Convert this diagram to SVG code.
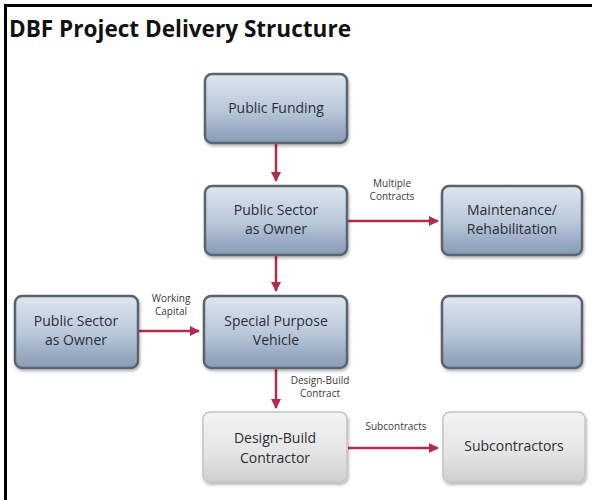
<svg xmlns="http://www.w3.org/2000/svg" width="592" height="500" viewBox="0 0 592 500">
<defs>
<linearGradient id="gb" x1="0" y1="0" x2="0" y2="1">
<stop offset="0" stop-color="#dfe6ef"/>
<stop offset="0.55" stop-color="#b7c6d8"/>
<stop offset="0.75" stop-color="#9fb1c8"/>
<stop offset="1" stop-color="#8a9cb4"/>
</linearGradient>
<linearGradient id="gg" x1="0" y1="0" x2="0" y2="1">
<stop offset="0" stop-color="#f4f4f4"/>
<stop offset="0.6" stop-color="#e4e4e4"/>
<stop offset="1" stop-color="#cfcfcf"/>
</linearGradient>
<marker id="ah" viewBox="0 0 10 10" refX="9" refY="5" markerWidth="4" markerHeight="4" orient="auto">
<path d="M0,0 L10,5 L0,10 z" fill="#b02d4c"/>
</marker>
<filter id="sh" x="-10%" y="-10%" width="130%" height="140%">
<feDropShadow dx="1" dy="2" stdDeviation="1.5" flood-color="#000" flood-opacity="0.3"/>
</filter>
</defs>
<style>
.nb{fill:url(#gb);stroke:#5c6470;stroke-width:2.5;filter:url(#sh)}
.ng{fill:url(#gg);stroke:#c4c4c4;stroke-width:1.5;filter:url(#sh)}
.t{font-family:"Open Sans","Liberation Sans",sans-serif;font-size:14px;fill:#2a2f36;text-anchor:middle}
.l{font-family:"Open Sans","Liberation Sans",sans-serif;font-size:10px;fill:#3a3a3a;text-anchor:middle}
.c{stroke:#b02d4c;stroke-width:2.5;fill:none;marker-end:url(#ah)}
</style>
<rect width="592" height="500" fill="#fff"/>
<line x1="5" y1="5.5" x2="592" y2="5.5" stroke="#000" stroke-width="3"/>
<line x1="5.5" y1="4" x2="5.5" y2="500" stroke="#000" stroke-width="3"/>
<text x="9" y="37" font-family="'Open Sans','Liberation Sans',sans-serif" font-weight="bold" font-size="24" fill="#111" textLength="342" lengthAdjust="spacingAndGlyphs">DBF Project Delivery Structure</text>

<g id="connectors">
<line class="c" x1="276" y1="144" x2="276" y2="181"/>
<line class="c" x1="348" y1="221" x2="438" y2="221"/>
<line class="c" x1="276" y1="256" x2="276" y2="291"/>
<line class="c" x1="139" y1="331" x2="199" y2="331"/>
<line class="c" x1="276" y1="369" x2="276" y2="408"/>
<line class="c" x1="348" y1="448" x2="438" y2="448"/>
<text class="l" x="392" y="187">Multiple</text>
<text class="l" x="392" y="200">Contracts</text>
<text class="l" x="171" y="302">Working</text>
<text class="l" x="171" y="315">Capital</text>
<text class="l" x="320" y="384">Design-Build</text>
<text class="l" x="320" y="397">Contract</text>
<text class="l" x="396" y="430">Subcontracts</text>
</g>

<g id="public-funding">
<rect class="nb" x="205" y="74" width="142" height="69" rx="7"/>
<text class="t" x="276" y="113">Public Funding</text>
</g>
<g id="public-sector-owner-top">
<rect class="nb" x="205" y="186" width="142" height="69" rx="7"/>
<text class="t" x="276" y="215">Public Sector</text>
<text class="t" x="276" y="234">as Owner</text>
</g>
<g id="maintenance">
<rect class="nb" x="442" y="186" width="140" height="69" rx="7"/>
<text class="t" x="512" y="215">Maintenance/</text>
<text class="t" x="512" y="234">Rehabilitation</text>
</g>
<g id="public-sector-owner-left">
<rect class="nb" x="15" y="296" width="123" height="72" rx="7"/>
<text class="t" x="76" y="326">Public Sector</text>
<text class="t" x="76" y="345">as Owner</text>
</g>
<g id="spv">
<rect class="nb" x="204" y="296" width="143" height="72" rx="7"/>
<text class="t" x="276" y="326">Special Purpose</text>
<text class="t" x="276" y="345">Vehicle</text>
</g>
<g id="right-node">
<rect class="nb" x="442" y="296" width="140" height="72" rx="7"/>
</g>
<g id="design-build-contractor">
<rect class="ng" x="203" y="412" width="144" height="70" rx="7"/>
<text class="t" x="275" y="443">Design-Build</text>
<text class="t" x="275" y="463">Contractor</text>
</g>
<g id="subcontractors">
<rect class="ng" x="443" y="412" width="142" height="70" rx="7"/>
<text class="t" x="514" y="451">Subcontractors</text>
</g>
</svg>
